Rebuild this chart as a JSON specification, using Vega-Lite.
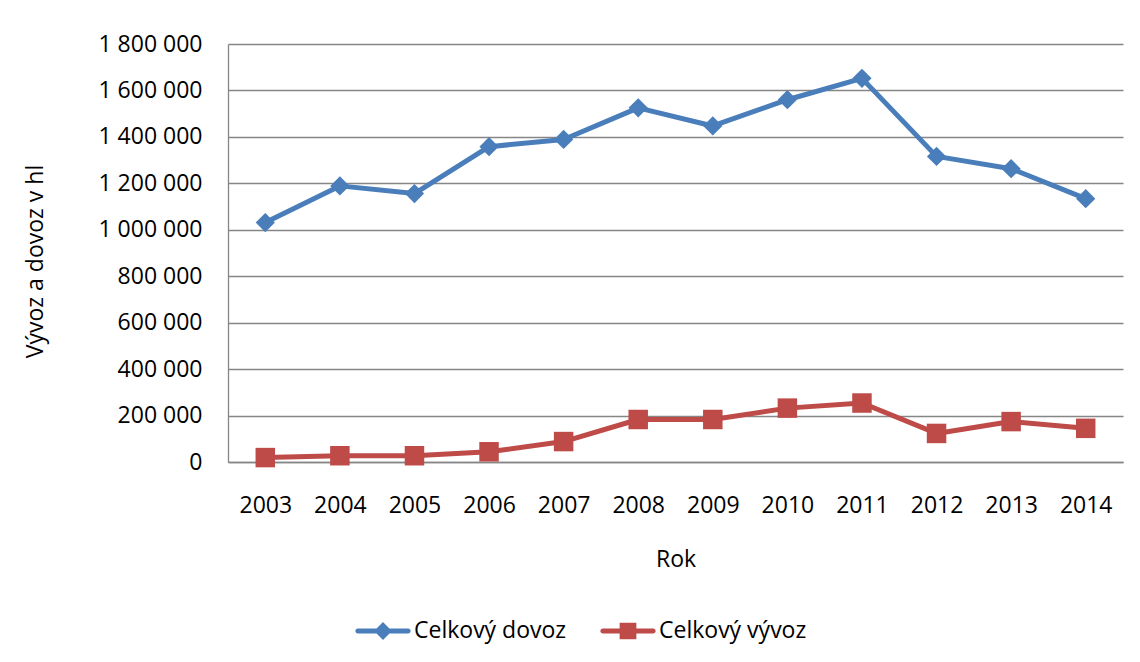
{
  "$schema": "https://vega.github.io/schema/vega-lite/v6.json",
  "width": 895,
  "height": 418,
  "autosize": {"type": "none"},
  "padding": {"left": 228, "top": 44, "right": 17, "bottom": 200},
  "background": "white",
  "config": {
    "locale": {"number": {"decimal": ",", "thousands": " ", "grouping": [3], "currency": ["", " Kč"]}},
    "view": {"stroke": null},
    "font": "Open Sans",
    "axis": {
      "labelFont": "Open Sans", "titleFont": "Open Sans",
      "labelFontSize": 23, "titleFontSize": 23,
      "labelColor": "black", "titleColor": "black", "titleFontWeight": "normal",
      "domainColor": "#868686", "domainWidth": 1.3,
      "gridColor": "#868686", "gridWidth": 1.3, "gridOpacity": 1,
      "ticks": false, "tickSize": 0
    }
  },
  "data": {"values": [
    {"rok": "2003", "rada": "Celkový dovoz", "hodnota": 1031000},
    {"rok": "2004", "rada": "Celkový dovoz", "hodnota": 1189000},
    {"rok": "2005", "rada": "Celkový dovoz", "hodnota": 1156000},
    {"rok": "2006", "rada": "Celkový dovoz", "hodnota": 1358000},
    {"rok": "2007", "rada": "Celkový dovoz", "hodnota": 1389000},
    {"rok": "2008", "rada": "Celkový dovoz", "hodnota": 1525000},
    {"rok": "2009", "rada": "Celkový dovoz", "hodnota": 1447000},
    {"rok": "2010", "rada": "Celkový dovoz", "hodnota": 1560000},
    {"rok": "2011", "rada": "Celkový dovoz", "hodnota": 1652000},
    {"rok": "2012", "rada": "Celkový dovoz", "hodnota": 1316000},
    {"rok": "2013", "rada": "Celkový dovoz", "hodnota": 1263000},
    {"rok": "2014", "rada": "Celkový dovoz", "hodnota": 1134000},
    {"rok": "2003", "rada": "Celkový vývoz", "hodnota": 19000},
    {"rok": "2004", "rada": "Celkový vývoz", "hodnota": 27000},
    {"rok": "2005", "rada": "Celkový vývoz", "hodnota": 27000},
    {"rok": "2006", "rada": "Celkový vývoz", "hodnota": 44000},
    {"rok": "2007", "rada": "Celkový vývoz", "hodnota": 88000},
    {"rok": "2008", "rada": "Celkový vývoz", "hodnota": 183000},
    {"rok": "2009", "rada": "Celkový vývoz", "hodnota": 183000},
    {"rok": "2010", "rada": "Celkový vývoz", "hodnota": 232000},
    {"rok": "2011", "rada": "Celkový vývoz", "hodnota": 254000},
    {"rok": "2012", "rada": "Celkový vývoz", "hodnota": 123000},
    {"rok": "2013", "rada": "Celkový vývoz", "hodnota": 174000},
    {"rok": "2014", "rada": "Celkový vývoz", "hodnota": 145000}
  ]},
  "encoding": {
    "x": {
      "field": "rok", "type": "ordinal",
      "scale": {"type": "point", "padding": 0.5},
      "axis": {"title": "Rok", "labelAngle": 0, "labelPadding": 32, "grid": false, "domain": true, "titleY": 104, "titleBaseline": "alphabetic"}
    },
    "y": {
      "field": "hodnota", "type": "quantitative",
      "scale": {"domain": [0, 1800000], "nice": false},
      "axis": {
        "title": "Vývoz a dovoz v hl",
        "values": [0, 200000, 400000, 600000, 800000, 1000000, 1200000, 1400000, 1600000, 1800000],
        "format": ",d", "labelPadding": 26, "domain": true, "grid": true,
        "titleX": -181, "titleY": 217, "titleAngle": -90, "titleBaseline": "bottom"
      }
    },
    "color": {
      "field": "rada", "type": "nominal",
      "scale": {"domain": ["Celkový dovoz", "Celkový vývoz"], "range": ["#4A7EBB", "#BE4B48"]}
    }
  },
  "layer": [
    {
      "mark": {"type": "line", "strokeWidth": 5, "strokeJoin": "round", "strokeCap": "round"},
      "encoding": {
        "color": {
          "field": "rada", "type": "nominal",
          "legend": {
            "orient": "none", "legendX": 128, "legendY": 560, "direction": "horizontal", "title": null,
            "labelFont": "Open Sans", "labelFontSize": 23, "labelColor": "black", "labelOffset": 4,
            "columnPadding": 33, "padding": 0, "symbolSize": 2916, "symbolStrokeWidth": 0,
            "encode": {
              "symbols": {
                "update": {
                  "shape": {"signal": "datum.value === 'Celkový dovoz' ? 'M-0.93,-0.093H0.93A0.093,0.093 0 0 1 0.93,0.093H-0.93A0.093,0.093 0 0 1 -0.93,-0.093Z M-0.33,0L0,-0.33L0.33,0L0,0.33Z' : 'M-0.93,-0.093H0.93A0.093,0.093 0 0 1 0.93,0.093H-0.93A0.093,0.093 0 0 1 -0.93,-0.093Z M-0.31,-0.31H0.31V0.31H-0.31Z'"},
                  "fill": {"scale": "color", "field": "value"},
                  "fillOpacity": {"value": 1},
                  "stroke": {"value": "transparent"},
                  "strokeWidth": {"value": 0}
                }
              }
            }
          }
        }
      }
    },
    {
      "transform": [{"filter": "datum.rada === 'Celkový dovoz'"}],
      "mark": {"type": "point", "filled": true, "opacity": 1, "size": 370, "shape": "diamond"},
      "encoding": {
        "color": {"field": "rada", "type": "nominal", "legend": null}
      }
    },
    {
      "transform": [{"filter": "datum.rada === 'Celkový vývoz'"}],
      "mark": {"type": "point", "filled": true, "opacity": 1, "size": 380, "shape": "square"},
      "encoding": {
        "color": {"field": "rada", "type": "nominal", "legend": null}
      }
    }
  ]
}
